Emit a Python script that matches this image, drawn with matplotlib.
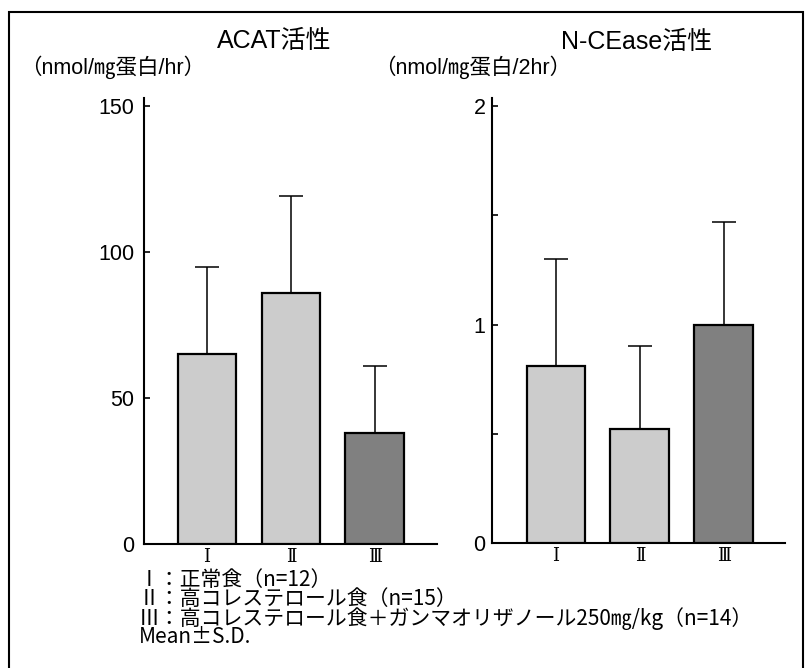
import numpy as np
import matplotlib.pyplot as plt
from matplotlib.patches import Rectangle

plt.rcParams['font.family'] = ['Liberation Sans', 'Noto Sans CJK JP']

# 群ラベル
groups = ['Ⅰ', 'Ⅱ', 'Ⅲ']
bar_colors = ['#cccccc', '#cccccc', '#808080']

# ACAT活性 (nmol/mg蛋白/hr)
acat_mean = [65, 86, 38]
acat_sd = [30, 33, 23]

# N-CEase活性 (nmol/mg蛋白/2hr)
ncease_mean = [0.81, 0.52, 1.00]
ncease_sd = [0.49, 0.38, 0.47]

legend_lines = [
    'Ⅰ：正常食（n=12）',
    'Ⅱ：高コレステロール食（n=15）',
    'Ⅲ：高コレステロール食＋ガンマオリザノール250㎎/kg（n=14）',
    'Mean±S.D.',
]

W, H = 812, 668
fig = plt.figure(figsize=(W / 100, H / 100), dpi=100)


def fx(x):
    return x / W


def fy(y):
    return 1 - y / H


def draw_panel(ax, mean, sd, ylim, yticks, yticklabels, minor, label_pad, xlim):
    x = np.arange(len(mean))
    ax.errorbar(x, mean, yerr=[np.zeros(len(sd)), sd], fmt='none',
                ecolor='black', elinewidth=1.1, capsize=8.3, capthick=1.1, zorder=2)
    ax.bar(x, mean, width=0.70, color=bar_colors, edgecolor='black',
           linewidth=1.6, zorder=3)
    ax.set_xlim(*xlim)
    ax.set_ylim(*ylim)
    ax.set_xticks(x)
    ax.set_xticklabels(groups, family=['DejaVu Serif', 'Noto Sans CJK JP'], fontsize=13)
    ax.set_yticks(yticks)
    ax.set_yticklabels(yticklabels)
    if minor:
        ax.set_yticks(minor, minor=True)
    ax.tick_params(axis='x', length=0, pad=3)
    ax.tick_params(axis='y', which='both', direction='in', length=4, width=1.2,
                   labelsize=15.5, pad=label_pad)
    for s in ('top', 'right'):
        ax.spines[s].set_visible(False)
    for s in ('left', 'bottom'):
        ax.spines[s].set_linewidth(1.5)


ax1 = fig.add_axes([fx(144), fy(544), fx(293), 446 / H])
draw_panel(ax1, acat_mean, acat_sd, (0, 152.7), [0, 50, 100, 150],
           ['0', '50', '100', '150'], None, 7, (-0.75, 2.74))

ax2 = fig.add_axes([fx(491.7), fy(543), fx(293.3), 445 / H])
draw_panel(ax2, ncease_mean, ncease_sd, (0, 2.037), [0, 1, 2],
           ['0', '1', '2'], [0.5, 1.5], 4.5, (-0.765, 2.73))

# タイトルと単位
fig.text(fx(274), fy(41), 'ACAT活性', fontsize=18, ha='center', va='center')
fig.text(fx(637), fy(42), 'N-CEase活性', fontsize=18, ha='center', va='center')
fig.text(fx(20), fy(67), '（nmol/㎎蛋白/hr）', fontsize=15.5, ha='left', va='center')
fig.text(fx(374), fy(67), '（nmol/㎎蛋白/2hr）', fontsize=15.5, ha='left', va='center')

# 凡例
fig.text(fx(139), fy(569), '\n'.join(legend_lines), fontsize=15,
         family=['Noto Sans CJK JP'], ha='left', va='top', linespacing=0.82)

# 外枠
fig.patches.append(Rectangle((fx(9), -0.02), fx(803 - 9), fy(12) + 0.02,
                             transform=fig.transFigure, fill=False,
                             edgecolor='black', linewidth=1.5))

fig.savefig('out.png', dpi=100)
